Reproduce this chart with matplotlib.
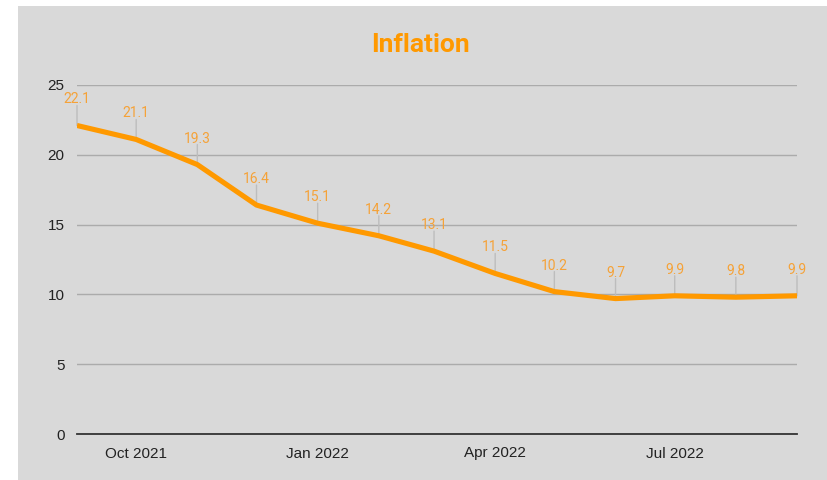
import matplotlib
matplotlib.use("Agg")
import matplotlib.pyplot as plt
import matplotlib.dates as mdates
from matplotlib.patches import Rectangle
import pandas as pd

# monthly inflation, Sep 2021 - Sep 2022
months = pd.date_range("2021-09-01", "2022-09-01", freq="MS")
inflation = [22.1, 21.1, 19.3, 16.4, 15.1, 14.2, 13.1, 11.5, 10.2, 9.7, 9.9, 9.8, 9.9]
tick_months = pd.to_datetime(["2021-10-01", "2022-01-01", "2022-04-01", "2022-07-01"])
y_ticks = [0, 5, 10, 15, 20, 25]

line_color = "#ff9900"
label_color = "#f5a238"
bg = "#d9d9d9"

fig = plt.figure(figsize=(8.27, 4.8), dpi=100, facecolor="white")
fig.patches.append(Rectangle((18 / 827, 0), 1 - 18 / 827, 1 - 6 / 480,
                             transform=fig.transFigure, facecolor=bg,
                             edgecolor="none", zorder=-10))

ax = fig.add_axes([77 / 827, 1 - 434 / 480, (797 - 77) / 827, (434 - 85) / 480])
ax.set_facecolor("none")

ax.plot(months, inflation, color=line_color, lw=3.7, solid_capstyle="butt",
        solid_joinstyle="round", zorder=3)

# value labels with small leader lines
for d, v in zip(months, inflation):
    ax.annotate("", xy=(d, v), xytext=(0, 20), textcoords="offset pixels",
                xycoords="data",
                arrowprops=dict(arrowstyle="-", color="#bdbdbd", lw=1.0,
                                shrinkA=0, shrinkB=0), zorder=2)
    ax.annotate(f"{v:.1f}", xy=(d, v), xytext=(0, 26), textcoords="offset pixels",
                ha="center", va="center", fontsize=10, color=label_color,
                family="Roboto", zorder=4)

ax.set_xlim(months[0], months[-1])
ax.set_ylim(0, 25)
ax.set_yticks(y_ticks)
ax.set_xticks(tick_months)
ax.xaxis.set_major_formatter(mdates.DateFormatter("%b %Y"))

ax.grid(axis="y", color="#ababab", lw=1.0)
ax.set_axisbelow(True)
for s in ["top", "right", "left"]:
    ax.spines[s].set_visible(False)
ax.spines["bottom"].set_color("#333333")
ax.spines["bottom"].set_linewidth(1.3)
ax.spines["bottom"].set_zorder(5)
ax.tick_params(axis="both", length=0, labelsize=11, labelcolor="#222222")
ax.tick_params(axis="x", pad=9)
ax.tick_params(axis="y", pad=9)
for lab in ax.get_xticklabels() + ax.get_yticklabels():
    lab.set_family("Liberation Sans")

fig.text(420 / 827, 1 - 45 / 480, "Inflation", ha="center", va="center",
         fontsize=19, fontweight="bold", color=line_color, family="Roboto")

fig.savefig("out.png", dpi=100)
